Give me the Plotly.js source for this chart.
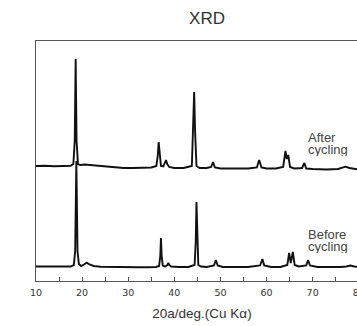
<!DOCTYPE html>
<html>
<head>
<meta charset="utf-8">
<script src="https://cdn.plot.ly/plotly-3.0.1.min.js"></script>
<style>
html,body{margin:0;padding:0;overflow:hidden;background:#fff;width:357px;height:326px;}
#chart{width:400px;height:326px;}
</style>
</head>
<body>
<div id="chart"></div>
<script>
// 2θ (deg) and intensity (a.u., stacked as plotted)
const beforeX = [10,12,14,16,17.5,18.2,18.5,18.75,19.0,19.3,19.8,20.4,21.0,21.6,22.5,24,26,28,30,32,34,36,36.7,36.95,37.1,37.25,37.5,38.0,38.5,38.7,38.9,39.3,41,43,44.4,44.65,44.8,44.95,45.2,45.8,47,48.6,49.0,49.4,50.5,53,56,58.6,59.1,59.5,61,63,64.5,64.9,65.25,65.7,66.1,67,68.6,69.0,69.4,71,74,76,77.3,78.2,79,80,82];
const beforeY = [14.5,14.3,14.6,14.2,14.5,16,30,120,30,17,15,16.5,18.3,16.5,15,14.3,14,13.7,13.6,13.7,13.8,14,15,25,43,25,15.5,14.5,16,18,16,14.5,14,14,16,40,79,40,16,14.5,14,15.5,21,15.5,14,14,14,15.5,22,15.5,14,14,16,28,18,29,16,14.5,15.5,21,15.5,14,13.8,14,14.5,15.5,14.5,14,14];

const afterX = [10,12,14,16,17.5,18.1,18.4,18.6,18.8,19.1,19.6,20.5,21.5,23,25,27,29,31,33,35,36.1,36.4,36.6,36.8,37.1,37.6,38.0,38.2,38.45,38.9,40,42,43.8,44.1,44.3,44.5,44.8,45.5,47,48.0,48.4,48.8,50,53,56,57.9,58.4,58.9,60,62,63.6,64.1,64.4,64.7,65.1,66,67.7,68.2,68.6,70,73,75.5,76.5,77.1,78,79,80,82];
const afterY = [115,115.3,114.8,115,115.2,117,140,222,140,117,116,116.5,116,115.5,115,113.5,113,113,113,113.5,115,125,139,125,115,114.5,118,121,117,114,113,113,115,150,189,150,115,113,113,114,119,113.5,112.5,112.5,112.5,113.5,121,113.5,112.5,112.5,114,130,122,126,114,112.5,113,118,112.5,112,111.5,112,113.5,114.3,113,112,111.5,111.5];

const xTickVals = [10,20,30,40,50,60,70,80];
const xTickText = ['10','20','30','40','50','60','70','80'];

const traces = [
  {x: beforeX, y: beforeY, type: 'scatter', mode: 'lines', name: 'Before cycling',
   line: {color: '#111', width: 1.9, shape: 'linear'}, hoverinfo: 'skip'},
  {x: afterX, y: afterY, type: 'scatter', mode: 'lines', name: 'After cycling',
   line: {color: '#111', width: 1.9, shape: 'linear'}, hoverinfo: 'skip'}
];

const annFont = {family: 'Liberation Sans, Arial, sans-serif', size: 13, color: '#444'};
function lab(text, y) {
  return {text: text, x: 68.8, y: y, xref: 'x', yref: 'y', xanchor: 'left', yanchor: 'middle',
          height: 14, valign: 'middle', borderpad: 0, showarrow: false, font: annFont};
}
const layout = {
  width: 400, height: 326,
  margin: {l: 36, r: 32, t: 41, b: 45, pad: 0},
  paper_bgcolor: '#fff', plot_bgcolor: '#fff',
  showlegend: false,
  title: {text: 'XRD', x: 207/400, xref: 'container', xanchor: 'center', y: 1, yref: 'container', yanchor: 'top', pad: {t: 12},
          font: {family: 'Liberation Sans, Arial, sans-serif', size: 17, color: '#333'}},
  xaxis: {
    range: [10, 82], showgrid: false, zeroline: false,
    showline: true, linecolor: '#555', linewidth: 1, mirror: true,
    ticks: 'inside', ticklen: 4, tickcolor: '#555', tickwidth: 1,
    tickvals: xTickVals, ticktext: xTickText, ticklabelstandoff: 3,
    minor: {dtick: 5, tick0: 0, ticks: 'inside', ticklen: 4, tickcolor: '#555', tickwidth: 1, showgrid: false},
    tickfont: {family: 'DejaVu Sans, sans-serif', size: 9.5, color: '#333'},
    title: {text: '20a/deg.(Cu Kα)', standoff: 11, font: {family: 'Liberation Sans, Arial, sans-serif', size: 13.5, color: '#333'}}
  },
  yaxis: {
    range: [0, 240], showgrid: false, zeroline: false,
    showline: true, linecolor: '#555', linewidth: 1, mirror: true,
    showticklabels: false, ticks: ''
  },
  annotations: [
    lab('After', 144.2), lab('cycling', 132.2),
    lab('Before', 47.2), lab('cycling', 35.2)
  ]
};

Plotly.newPlot('chart', traces, layout, {displayModeBar: false, staticPlot: true});
</script>
</body>
</html>
